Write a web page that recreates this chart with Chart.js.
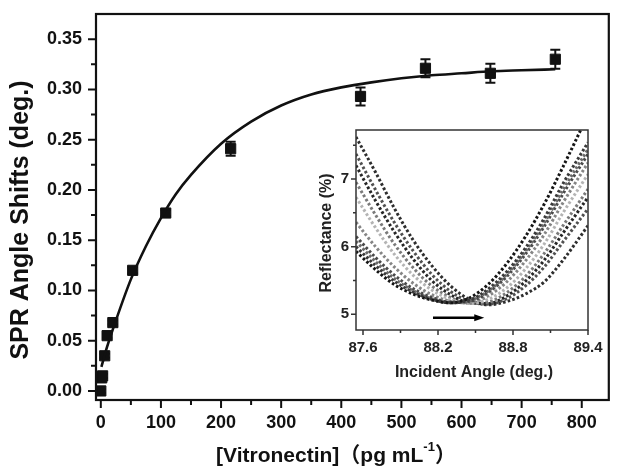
<!DOCTYPE html>
<html><head><meta charset="utf-8">
<script src="https://cdn.jsdelivr.net/npm/chart.js@4.4.1/dist/chart.umd.min.js"></script>
<style>
html,body{margin:0;padding:0;background:#fff;}
#wrap{position:relative;width:617px;height:466px;overflow:hidden;}
#main{position:absolute;left:0;top:0;}
#inset{position:absolute;left:300px;top:120px;}
</style></head><body>
<div id="wrap">
<canvas id="main" width="617" height="466"></canvas>
<canvas id="inset" width="317" height="270"></canvas>
</div>
<script>
// ---------- main chart data ----------
const concentrations = [0, 1.5, 3, 6.5, 10.5, 20, 53, 108, 216, 432, 540, 648, 756];
const angleShifts    = [0.000, 0.013, 0.015, 0.035, 0.055, 0.068, 0.120, 0.177, 0.241, 0.293, 0.321, 0.316, 0.330];
const shiftErrors    = [0.002, 0.002, 0.002, 0.002, 0.002, 0.002, 0.003, 0.003, 0.007, 0.009, 0.009, 0.0095, 0.0095];
const fitX = [1, 10, 25, 50, 75, 100, 125, 150, 200, 250, 300, 350, 400, 450, 500, 550, 600, 650, 700, 756];
const fitY = [0.024, 0.043, 0.070, 0.111, 0.144, 0.172, 0.196, 0.215, 0.246, 0.268, 0.284, 0.295, 0.302, 0.307, 0.311, 0.314, 0.316, 0.318, 0.319, 0.320];
const xTickValues = [0, 100, 200, 300, 400, 500, 600, 700, 800];
const yTickValues = [0.00, 0.05, 0.10, 0.15, 0.20, 0.25, 0.30, 0.35];
const xAxisTitle = ['[Vitronectin]', '（pg mL', '-1', '）'];
const yAxisTitle = 'SPR Angle Shifts (deg.)';

// ---------- inset data ----------
const incidentAngles = [87.544, 87.7, 87.85, 88.0, 88.15, 88.3, 88.45, 88.6, 88.75, 88.9, 89.05, 89.2, 89.4];
const reflectance1  = [5.93, 5.66, 5.44, 5.30, 5.21, 5.17, 5.24, 5.44, 5.75, 6.15, 6.63, 7.18, 7.95];
const reflectance2  = [6.00, 5.72, 5.49, 5.33, 5.22, 5.17, 5.21, 5.37, 5.63, 5.98, 6.42, 6.93, 7.54];
const reflectance3  = [6.08, 5.78, 5.53, 5.35, 5.23, 5.17, 5.20, 5.34, 5.59, 5.93, 6.35, 6.84, 7.44];
const reflectance4  = [6.15, 5.84, 5.58, 5.38, 5.25, 5.18, 5.19, 5.32, 5.56, 5.89, 6.30, 6.78, 7.37];
const reflectance5  = [6.36, 6.00, 5.70, 5.46, 5.29, 5.19, 5.17, 5.27, 5.48, 5.79, 6.18, 6.65, 7.24];
const reflectance6  = [6.73, 6.28, 5.89, 5.58, 5.36, 5.22, 5.16, 5.22, 5.39, 5.67, 6.04, 6.50, 7.07];
const reflectance7  = [6.95, 6.47, 6.04, 5.69, 5.42, 5.25, 5.16, 5.18, 5.32, 5.56, 5.90, 6.31, 6.85];
const reflectance8  = [7.20, 6.68, 6.22, 5.82, 5.50, 5.29, 5.17, 5.16, 5.27, 5.49, 5.80, 6.20, 6.73];
const reflectance9  = [7.37, 6.84, 6.36, 5.94, 5.59, 5.34, 5.19, 5.15, 5.23, 5.42, 5.70, 6.07, 6.56];
const reflectance10 = [7.62, 7.10, 6.57, 6.10, 5.72, 5.42, 5.22, 5.14, 5.19, 5.30, 5.48, 5.80, 6.31];
const insetXTicks = [87.6, 88.2, 88.8, 89.4];
const insetYTicks = [5, 6, 7];
const insetXTitle = 'Incident Angle (deg.)';
const insetYTitle = 'Reflectance (%)';
const arrowFrom = {x: 88.16, y: 4.95};
const arrowTo   = {x: 88.57, y: 4.95};

// ---------- styling ----------
const FONT = "'Liberation Sans', Arial, 'Noto Sans CJK SC', sans-serif";
const NARROW = "'Liberation Sans Narrow', 'Liberation Sans', Arial, sans-serif";
const INK = '#111';
const noPad = s => { s.paddingTop = 0; s.paddingBottom = 0; s.paddingLeft = 0; s.paddingRight = 0; };

const mainDecor = {
  id: 'mainDecor',
  beforeDatasetsDraw(chart) {
    const {ctx, scales: {x, y}} = chart;
    ctx.save();
    ctx.strokeStyle = INK; ctx.lineWidth = 2;
    concentrations.forEach((c, i) => {
      const px = x.getPixelForValue(c);
      const top = y.getPixelForValue(angleShifts[i] + shiftErrors[i]);
      const bot = y.getPixelForValue(angleShifts[i] - shiftErrors[i]);
      ctx.beginPath();
      ctx.moveTo(px, top); ctx.lineTo(px, bot);
      ctx.moveTo(px - 5, top); ctx.lineTo(px + 5, top);
      ctx.moveTo(px - 5, bot); ctx.lineTo(px + 5, bot);
      ctx.stroke();
    });
    ctx.restore();
  },
  afterDraw(chart) {
    const {ctx, chartArea: a, scales: {x, y}} = chart;
    ctx.save();
    ctx.strokeStyle = INK; ctx.lineWidth = 2.2;
    ctx.strokeRect(a.left, a.top, a.right - a.left, a.bottom - a.top);
    ctx.lineWidth = 2;
    ctx.beginPath();
    for (let i = 0; i < xTickValues.length; i++) {
      const v = xTickValues[i];
      const p = x.getPixelForValue(v);
      ctx.moveTo(p, a.bottom); ctx.lineTo(p, a.bottom + 8);
      if (i < xTickValues.length - 1) {
        const m = x.getPixelForValue((v + xTickValues[i + 1]) / 2);
        ctx.moveTo(m, a.bottom); ctx.lineTo(m, a.bottom + 5);
      }
    }
    for (let i = 0; i < yTickValues.length; i++) {
      const v = yTickValues[i];
      const p = y.getPixelForValue(v);
      ctx.moveTo(a.left, p); ctx.lineTo(a.left - 8, p);
      if (i < yTickValues.length - 1) {
        const m = y.getPixelForValue((v + yTickValues[i + 1]) / 2);
        ctx.moveTo(a.left, m); ctx.lineTo(a.left - 5, m);
      }
    }
    ctx.stroke();
    // y title
    ctx.fillStyle = INK;
    ctx.font = 'bold 25px ' + FONT;
    ctx.textAlign = 'center'; ctx.textBaseline = 'middle';
    ctx.translate(21, 220); ctx.rotate(-Math.PI / 2);
    ctx.fillText(yAxisTitle, 0, 0);
    ctx.setTransform(1, 0, 0, 1, 0, 0);
    // x title with superscript
    const big = 'bold 21px ' + FONT, small = 'bold 13px ' + FONT;
    ctx.textAlign = 'left'; ctx.textBaseline = 'alphabetic';
    ctx.font = big; const w0 = ctx.measureText(xAxisTitle[0]).width;
    const w1 = ctx.measureText(xAxisTitle[1]).width;
    const w3 = ctx.measureText(xAxisTitle[3]).width;
    ctx.font = small; const w2 = ctx.measureText(xAxisTitle[2]).width;
    let cx = 336 - (w0 + w1 + w2 + w3) / 2;
    const base = 462;
    ctx.font = big; ctx.fillText(xAxisTitle[0], cx, base); cx += w0;
    ctx.fillText(xAxisTitle[1], cx, base); cx += w1;
    ctx.font = small; ctx.fillText(xAxisTitle[2], cx, base - 11); cx += w2;
    ctx.font = big; ctx.fillText(xAxisTitle[3], cx, base);
    ctx.restore();
  }
};

new Chart(document.getElementById('main'), {
  type: 'scatter',
  data: {
    datasets: [
      {
        type: 'line',
        data: fitX.map((v, i) => ({x: v, y: fitY[i]})),
        borderColor: INK, borderWidth: 2.6, pointRadius: 0,
        cubicInterpolationMode: 'monotone', fill: false
      },
      {
        data: concentrations.map((v, i) => ({x: v, y: angleShifts[i]})),
        pointStyle: 'rect', pointRadius: 7.2,
        backgroundColor: INK, borderColor: INK, borderWidth: 1
      }
    ]
  },
  options: {
    responsive: false, animation: false, events: [],
    layout: {padding: {top: 14, right: 1, left: 0, bottom: 0}},
    plugins: {legend: {display: false}, tooltip: {enabled: false}},
    scales: {
      x: {
        type: 'linear', min: -8, max: 845,
        afterFit: s => { s.height = 66; noPad(s); },
        afterBuildTicks: s => { s.ticks = xTickValues.map(v => ({value: v})); },
        grid: {display: false, drawTicks: false},
        border: {display: false},
        ticks: {padding: 12, color: INK, autoSkip: false, maxRotation: 0,
                font: {family: FONT, size: 18, weight: 'bold'}}
      },
      y: {
        type: 'linear', min: -0.009, max: 0.375,
        afterFit: s => { s.width = 96; noPad(s); },
        afterBuildTicks: s => { s.ticks = yTickValues.map(v => ({value: v})); },
        grid: {display: false, drawTicks: false},
        border: {display: false},
        ticks: {padding: 14, color: INK, autoSkip: false,
                callback: v => Number(v).toFixed(2),
                font: {family: FONT, size: 18, weight: 'bold'}}
      }
    }
  },
  plugins: [mainDecor]
});

// ---------- inset ----------
const insetSeries = [reflectance1, reflectance2, reflectance3, reflectance4, reflectance5,
                     reflectance6, reflectance7, reflectance8, reflectance9, reflectance10];
const insetColors = ['#151515', '#3a3a3a', '#6a6a6a', '#4a4a4a', '#858585',
                     '#b4b4b4', '#7a7a7a', '#262626', '#505050', '#2e2e2e'];

const insetDecor = {
  id: 'insetDecor',
  afterDraw(chart) {
    const {ctx, chartArea: a, scales: {x, y}} = chart;
    ctx.save();
    ctx.strokeStyle = '#333'; ctx.lineWidth = 1.5;
    ctx.strokeRect(a.left, a.top, a.right - a.left, a.bottom - a.top);
    ctx.beginPath();
    for (let i = 0; i < insetXTicks.length; i++) {
      const v = insetXTicks[i];
      const p = x.getPixelForValue(v);
      ctx.moveTo(p, a.bottom); ctx.lineTo(p, a.bottom + 5);
      if (i < insetXTicks.length - 1) {
        const m = x.getPixelForValue((v + insetXTicks[i + 1]) / 2);
        ctx.moveTo(m, a.bottom); ctx.lineTo(m, a.bottom + 3);
      }
    }
    for (let i = 0; i < insetYTicks.length; i++) {
      const v = insetYTicks[i];
      const p = y.getPixelForValue(v);
      ctx.moveTo(a.left, p); ctx.lineTo(a.left - 5, p);
      const m = y.getPixelForValue(v + 0.5);
      ctx.moveTo(a.left, m); ctx.lineTo(a.left - 3, m);
    }
    ctx.stroke();
    // arrow
    const x0 = x.getPixelForValue(arrowFrom.x), y0 = y.getPixelForValue(arrowFrom.y);
    const x1 = x.getPixelForValue(arrowTo.x), y1 = y.getPixelForValue(arrowTo.y);
    ctx.strokeStyle = '#000'; ctx.fillStyle = '#000'; ctx.lineWidth = 2.5;
    ctx.beginPath(); ctx.moveTo(x0, y0); ctx.lineTo(x1 - 8, y1); ctx.stroke();
    ctx.beginPath(); ctx.moveTo(x1, y1); ctx.lineTo(x1 - 10, y1 - 3.5); ctx.lineTo(x1 - 10, y1 + 3.5); ctx.closePath(); ctx.fill();
    // titles
    ctx.fillStyle = '#222';
    ctx.textAlign = 'center'; ctx.textBaseline = 'middle';
    ctx.font = 'bold 16px ' + NARROW;
    ctx.fillText(insetXTitle, 174, 253);
    ctx.translate(27, 113); ctx.rotate(-Math.PI / 2);
    ctx.font = 'bold 16px ' + NARROW;
    ctx.fillText(insetYTitle, 0, 0);
    ctx.restore();
  }
};

new Chart(document.getElementById('inset'), {
  type: 'line',
  data: {
    datasets: insetSeries.map((s, k) => ({
      data: incidentAngles.map((v, i) => ({x: v, y: s[i]})),
      borderColor: insetColors[k], borderWidth: 3, borderDash: [2.6, 2.2],
      pointRadius: 0, cubicInterpolationMode: 'monotone', fill: false
    }))
  },
  options: {
    responsive: false, animation: false, events: [],
    layout: {padding: {top: 10, right: 29, left: 0, bottom: 0}},
    plugins: {legend: {display: false}, tooltip: {enabled: false}},
    scales: {
      x: {
        type: 'linear', min: 87.544, max: 89.4,
        afterFit: s => { s.height = 60; noPad(s); },
        afterBuildTicks: s => { s.ticks = insetXTicks.map(v => ({value: v})); },
        grid: {display: false, drawTicks: false},
        border: {display: false},
        ticks: {padding: 9, color: '#222', autoSkip: false, maxRotation: 0,
                callback: v => Number(v).toFixed(1),
                font: {family: NARROW, size: 15, weight: 'bold'}}
      },
      y: {
        type: 'linear', min: 4.768, max: 7.724,
        afterFit: s => { s.width = 56; noPad(s); },
        afterBuildTicks: s => { s.ticks = insetYTicks.map(v => ({value: v})); },
        grid: {display: false, drawTicks: false},
        border: {display: false},
        ticks: {padding: 7, color: '#222', autoSkip: false,
                font: {family: NARROW, size: 15, weight: 'bold'}}
      }
    }
  },
  plugins: [insetDecor]
});
</script>
</body></html>
